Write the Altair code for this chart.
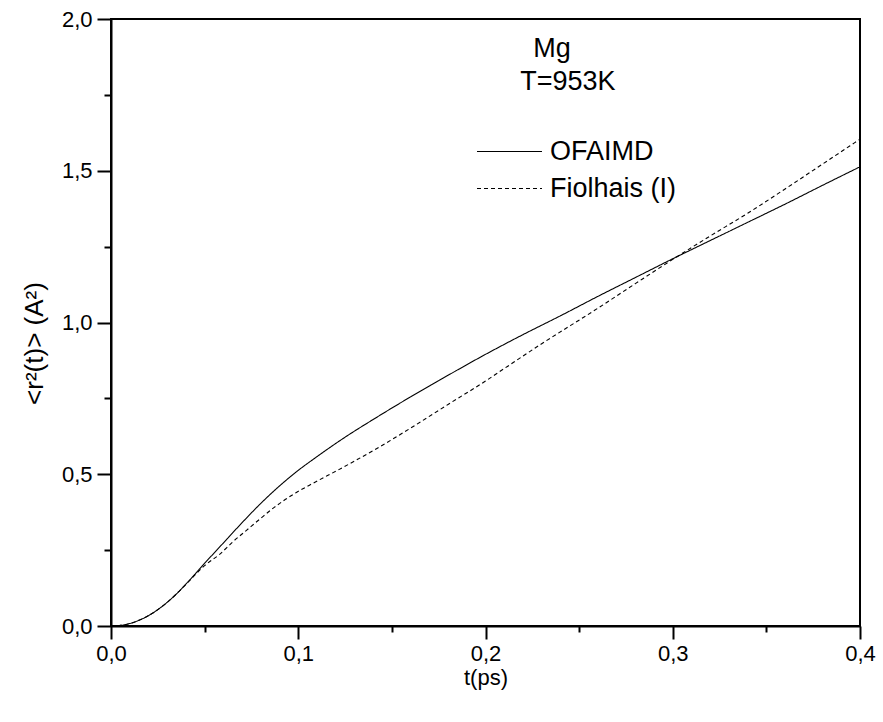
import altair as alt
import pandas as pd

# ---- data ----
series_names = ["OFAIMD", "Fiolhais (I)"]

t_ofaimd = [0, 0.005, 0.01, 0.015, 0.02, 0.025, 0.03, 0.035, 0.04, 0.045, 0.05,
            0.055, 0.062, 0.071, 0.08, 0.089, 0.099, 0.11, 0.124, 0.142, 0.16,
            0.18, 0.2, 0.22, 0.24, 0.26, 0.28, 0.3, 0.32, 0.34, 0.36, 0.38, 0.4]
r2_ofaimd = [0, 0.002, 0.008, 0.019, 0.034, 0.054, 0.078, 0.106, 0.138, 0.172, 0.207,
             0.240, 0.287, 0.347, 0.404, 0.456, 0.508, 0.558, 0.618, 0.688, 0.755,
             0.826, 0.895, 0.96, 1.022, 1.086, 1.148, 1.21, 1.27, 1.33, 1.39, 1.452, 1.513]

t_fiolhais = [0, 0.005, 0.01, 0.015, 0.02, 0.025, 0.03, 0.035, 0.04, 0.045, 0.05,
              0.058, 0.065, 0.0725, 0.08, 0.087, 0.099, 0.106, 0.124, 0.142, 0.16,
              0.18, 0.2, 0.208, 0.23, 0.26, 0.28, 0.3, 0.32, 0.34, 0.36, 0.38, 0.4]
r2_fiolhais = [0, 0.002, 0.008, 0.019, 0.034, 0.054, 0.078, 0.106, 0.137, 0.169, 0.199,
               0.236, 0.277, 0.316, 0.355, 0.39, 0.44, 0.464, 0.523, 0.585, 0.652,
               0.73, 0.807, 0.84, 0.93, 1.047, 1.128, 1.208, 1.285, 1.36, 1.44, 1.522, 1.604]

ann_text = ["Mg", "T=953K"]
ann_t = [0.2355, 0.244]
ann_r2 = [1.875, 1.766]

x_ticks = [0, 0.05, 0.1, 0.15, 0.2, 0.25, 0.3, 0.35, 0.4]
y_ticks = [0, 0.25, 0.5, 0.75, 1.0, 1.25, 1.5, 1.75, 2.0]

df = pd.concat([
    pd.DataFrame({"t": t_ofaimd, "r2": r2_ofaimd, "series": series_names[0]}),
    pd.DataFrame({"t": t_fiolhais, "r2": r2_fiolhais, "series": series_names[1]}),
])
ann = pd.DataFrame({"label": ann_text, "t": ann_t, "r2": ann_r2})

FONT = "Liberation Sans"

x_scale = alt.Scale(domain=[0, 0.4], nice=False, zero=False)
y_scale = alt.Scale(domain=[0, 2.0], nice=False, zero=False)

x_axis = alt.Axis(
    values=x_ticks,
    title="t(ps)",
    labelExpr="round(datum.value*20) % 2 == 0 ? replace(format(datum.value, '.1f'), '.', ',') : ''",
    tickSize={"condition": {"test": "round(datum.value*20) % 2 == 0", "value": 13}, "value": 6},
    labelPadding=4,
    labelFlush=False,
    labelOverlap=False,
    titleY=58,
    titleBaseline="alphabetic",
)
y_axis = alt.Axis(
    values=y_ticks,
    title="<r²(t)> (A²)",
    labelExpr="round(datum.value*4) % 2 == 0 ? replace(format(datum.value, '.1f'), '.', ',') : ''",
    tickSize={"condition": {"test": "round(datum.value*4) % 2 == 0", "value": 14}, "value": 7},
    labelPadding=5,
    labelFlush=False,
    labelOverlap=False,
    titleX=-69,
    titleY=324,
    titleBaseline="alphabetic",
    titleFontSize=26,
)

lines = alt.Chart(df).mark_line(color="black", strokeWidth=1.1, interpolate="monotone").encode(
    x=alt.X("t:Q", scale=x_scale, axis=x_axis),
    y=alt.Y("r2:Q", scale=y_scale, axis=y_axis),
    strokeDash=alt.StrokeDash(
        "series:N",
        scale=alt.Scale(domain=series_names, range=[[1, 0], [4, 3]]),
        legend=alt.Legend(
            title=None,
            orient="none",
            legendX=376,
            legendY=110,
            symbolType="M-1.5,0H1.5",
            symbolSize=1877,
            symbolStrokeColor="black",
            symbolFillColor="transparent",
            symbolStrokeWidth=1,
            labelFontSize=27,
            labelFont=FONT,
            labelColor="black",
            labelOffset=18,
            rowPadding=1,
            padding=0,
        ),
    ),
    detail="series:N",
)

texts = alt.Chart(ann).mark_text(
    font=FONT, fontSize=27, color="black", align="center", baseline="alphabetic"
).encode(
    x=alt.X("t:Q", scale=x_scale),
    y=alt.Y("r2:Q", scale=y_scale),
    text="label:N",
)

chart = alt.layer(lines, texts).properties(
    width=749,
    height=607,
    background="white",
    autosize=alt.AutoSizeParams(type="none"),
    padding={"left": 111, "top": 19, "right": 23, "bottom": 96},
).configure_view(
    stroke="black", strokeWidth=2
).configure_axis(
    grid=False,
    domainColor="black",
    domainWidth=2,
    tickColor="black",
    tickWidth=2,
    labelFont=FONT,
    labelFontSize=22,
    labelColor="black",
    titleFont=FONT,
    titleFontSize=22,
    titleFontWeight="normal",
    titleColor="black",
)

chart.save("out.html", embed_options={"renderer": "svg", "actions": False})
